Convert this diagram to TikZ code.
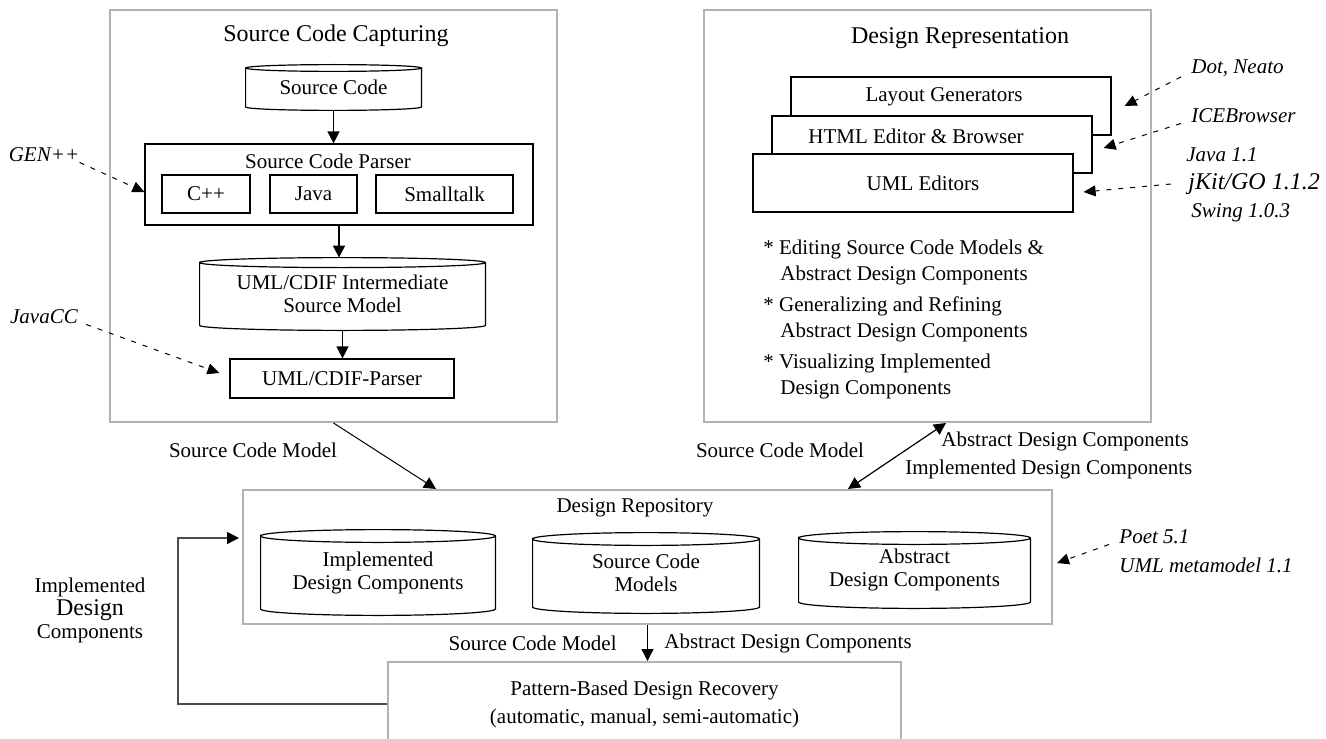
\documentclass[tikz,border=0pt]{standalone}
\usepackage{fontspec}
\setmainfont{Liberation Serif}
\usetikzlibrary{arrows.meta,calc}

\tikzset{
  frame/.style={draw=black!30, line width=1pt, inner sep=0pt},
  box/.style={draw, line width=0.6pt, inner sep=0pt, align=center},
  db/.style={inner sep=0pt, align=center},
  title/.style={inner sep=0pt, font=\fontsize{12}{14}\selectfont},
  note/.style={inner sep=0pt, font=\itshape},
  flow/.style={line width=0.7pt, -{Triangle[length=6pt,width=6pt,color=black]}},
  hint/.style={line width=0.5pt, dash pattern=on 2.5pt off 3.5pt, -{Triangle[length=6pt,width=5.5pt]}},
}

% outline of a database drum round a node
\newcommand{\dbdraw}[2][3pt]{%
  \draw[line width=0.6pt] let \p1=(#2.north west), \p2=(#2.south east), \n1={0.5*(\x2-\x1)} in
    ([yshift=-#1]#2.north west) arc[start angle=180, end angle=-180, x radius=\n1, y radius=#1]
    -- ([yshift=#1]#2.south west) arc[start angle=180, end angle=360, x radius=\n1, y radius=#1]
    -- ([yshift=-#1]#2.north east);}

\begin{document}
\fontsize{10.5}{11.5}\selectfont
\begin{tikzpicture}[x=0.5pt, y=-0.5pt]
\useasboundingbox (0,0) rectangle (1326,738);
\clip (0,0) rectangle (1326,738);

% source code capturing
\node[frame, minimum width=223.5pt, minimum height=206pt] (cap) at (333.5,216) {};
\node[title] (capt) at (336,36) {Source Code Capturing};
\node[db, minimum width=87.5pt, minimum height=22.5pt] (src) at (333.5,87.5) {Source Code};
\dbdraw[1.7pt]{src}
\node[box, minimum width=194pt, minimum height=40.5pt] (parser) at (339,184.5) {};
\node (parsert) at (328,161) {Source Code Parser};
\node[box, minimum width=44pt, minimum height=19pt] (cpp) at (206,194) {C++};
\node[box, minimum width=43.5pt, minimum height=19pt] (java) at (313.5,194) {Java};
\node[box, minimum width=68.5pt, minimum height=19pt] (st) at (444.5,194) {Smalltalk};
\node[db, minimum width=142.5pt, minimum height=36pt] (inter) at (342.5,294) {UML/CDIF Intermediate\\Source Model};
\dbdraw[2.5pt]{inter}
\node[box, minimum width=112pt, minimum height=19.5pt] (umlp) at (342,378.5) {UML/CDIF-Parser};
\draw[flow] (src.south) -- (src.south |- parser.north);
\draw[flow] (parser.south) -- (parser.south |- inter.north);
\draw[flow] (inter.south) -- (inter.south |- umlp.north);

\node[note] (gen) at (44,155) {GEN++};
\node[note] (javacc) at (44,317) {JavaCC};
\draw[hint] (gen.south east) -- ([yshift=-3.75pt]parser.west);
\draw[hint] ([xshift=4pt]javacc.south east) -- ([xshift=-5pt,yshift=2.75pt]umlp.west);

% design representation
\node[frame, minimum width=223.5pt, minimum height=206pt] (rep) at (927.5,216) {};
\node[title] (rept) at (960,38) {Design Representation};
\node[box, fill=white, minimum width=160pt, minimum height=29pt,
  label={[xshift=-3.5pt,yshift=4.5pt]center:Layout Generators}] (lay) at (951,106) {};
\node[box, fill=white, minimum width=160pt, minimum height=28.5pt,
  label={[xshift=-8pt,yshift=4.25pt]center:HTML Editor \& Browser}] (html) at (932,144.5) {};
\node[box, fill=white, minimum width=160pt, minimum height=29pt] (uml) at (913,183) {\hspace*{10pt}UML Editors};
\node[anchor=north west, inner sep=0pt, align=left, font=\fontsize{10.5}{13}\selectfont] (feat) at (763,240) {%
  * Editing Source Code Models \&\\
  \hspace*{8.5pt}Abstract Design Components\\[2.5pt]
  * Generalizing and Refining\\
  \hspace*{8.5pt}Abstract Design Components\\[2.5pt]
  * Visualizing Implemented\\
  \hspace*{8.5pt}Design Components};

\node[note, anchor=west] (dot) at (1191,68) {Dot, Neato};
\node[note, anchor=west] (ice) at (1191,116) {ICEBrowser};
\node[note, anchor=west] (jv) at (1186,155) {Java 1.1};
\node[note, anchor=west, font=\fontsize{12}{14}\selectfont\itshape] (jkit) at (1188,184) {jKit/GO 1.1.2};
\node[note, anchor=west] (swing) at (1191,213) {Swing 1.0.3};
\draw[hint] ([xshift=-5pt]dot.south west) -- ([xshift=6.5pt]lay.east);
\draw[hint] ([xshift=-5pt]ice.south west) -- ([xshift=5.5pt,yshift=-1.75pt]html.east);
\draw[hint] ([xshift=-8.5pt]jkit.west) -- ([xshift=5pt,yshift=-4.5pt]uml.east);

% design repository
\node[frame, minimum width=404.5pt, minimum height=67pt] (repo) at (647.5,557) {};
\node (repot) at (635,508) {Design Repository};
\node[db, minimum width=117pt, minimum height=42.5pt] (impl) at (378,572.5) {Implemented\\Design Components};
\dbdraw[3.2pt]{impl}
\node[db, minimum width=113pt, minimum height=40pt] (scm) at (646,573) {Source Code\\Models};
\dbdraw[3.2pt]{scm}
\node[db, minimum width=115.5pt, minimum height=38pt] (abs) at (914.5,570) {Abstract\\Design Components};
\dbdraw[3.2pt]{abs}

\node[note, anchor=west] (poet) at (1119,537) {Poet 5.1};
\node[note, anchor=west] (meta) at (1119,565) {UML metamodel 1.1};
\draw[hint] ([xshift=-5pt]poet.south west) -- ([xshift=2pt,yshift=-3pt]repo.east);

\node (lblsrc) at (253,450) {Source Code Model};
\node (lblsrc2) at (780,450) {Source Code Model};
\node[anchor=west, inner sep=0pt] (lblabs) at (941,441) {Abstract Design Components};
\node[anchor=west, inner sep=0pt] (lblimp) at (905,469) {Implemented Design Components};
\draw[flow, line width=0.5pt] (cap.south) -- ([xshift=-105.75pt]repo.north);
\draw[line width=0.6pt, {Triangle[length=6pt,width=6pt]}-{Triangle[length=6pt,width=6pt]}]
  ([xshift=9.25pt]rep.south) -- ([xshift=100.25pt]repo.north);

% pattern based recovery
\node[frame, minimum width=256.5pt, minimum height=42pt, align=center, font=\fontsize{10.5}{14}\selectfont] (recov) at (644.5,704)
  {Pattern-Based Design Recovery\\(automatic, manual, semi-automatic)};
\draw[flow] (repo.south) -- (repo.south |- recov.north);
\node[anchor=east, inner sep=0pt] (lblsm) at (617,643) {Source Code Model};
\node[anchor=west, inner sep=0pt] (lblad) at (664,643) {Abstract Design Components};

\coordinate (fbcorner) at (178,538);
\coordinate (fbin) at (239,538);
\draw[flow, draw=black!70] (recov.west) -| (fbcorner) -- (fbin);
\node[align=center] (lblfb) at (90,610) {Implemented\\{\fontsize{12}{14}\selectfont Design}\\Components};
\end{tikzpicture}
\end{document}
